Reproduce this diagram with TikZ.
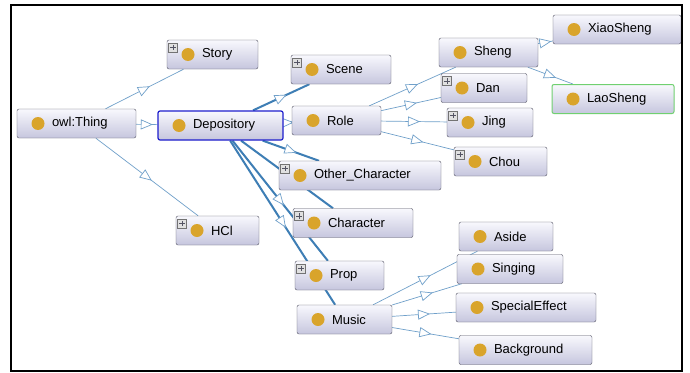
\documentclass[tikz,border=0pt]{standalone}
\usepackage{fontspec}
\setmainfont{Liberation Sans}
\usetikzlibrary{arrows.meta,decorations.markings,backgrounds}

\definecolor{dotgold}{RGB}{217,164,43}
\definecolor{boxtop}{RGB}{248,248,253}
\definecolor{boxbot}{RGB}{198,198,222}
\definecolor{boxline}{RGB}{84,84,100}
\definecolor{isacol}{RGB}{112,160,202}
\definecolor{isadark}{RGB}{62,126,181}
\definecolor{selblue}{RGB}{30,30,205}
\definecolor{selgreen}{RGB}{112,208,112}

\tikzset{
  tri/.tip={Triangle[open, color=isacol, fill=white, line width=.7pt, length=12pt, width=10pt]},
  cls/.style={draw=boxline, rounded corners=2pt, top color=boxtop, bottom color=boxbot,
    minimum height=29pt, inner xsep=0pt, inner ysep=0pt, text width=#1, align=flush left,
    font=\fontsize{13}{15}\selectfont, execute at begin node=\hspace*{35pt},
    path picture={\fill[dotgold] ([xshift=21pt]path picture bounding box.west) circle (6.5pt);}},
  plus/.style={path picture={
      \fill[dotgold] ([xshift=21pt]path picture bounding box.west) circle (6.5pt);
      \draw[sharp corners, draw=black!55, fill=black!12, line width=.6pt]
        ([shift={(1.5pt,-3pt)}]path picture bounding box.north west) rectangle ++(9pt,-9pt);
      \draw[sharp corners, line width=.8pt]
        ([shift={(3.3pt,-7.5pt)}]path picture bounding box.north west) -- ++(5.4pt,0pt)
        ([shift={(6pt,-4.8pt)}]path picture bounding box.north west) -- ++(0pt,-5.4pt);}},
  isa/.style={every edge/.style={draw=isacol, line width=.7pt, postaction=decorate,
      decoration={markings, mark=at position .5 with {\arrow[xshift=6pt]{tri}}}}},
  isab/.style={every edge/.style={draw=isadark, line width=2pt, postaction=decorate,
      decoration={markings, mark=at position .5 with {\arrow[xshift=6pt]{tri}}}}},
}

\begin{document}
\begin{tikzpicture}[x=1pt, y=-1pt]
  \useasboundingbox (0,0) rectangle (690,372);

  % classes
  \node[cls=119pt] (thing) at (76.5,123.5) {owl:Thing};
  \node[cls=91pt, plus] (story) at (212.5,54.5) {Story};
  \node[cls=125pt, draw=selblue, line width=1.2pt] (dep) at (220.5,125.5) {Depository};
  \node[cls=83pt, plus] (hcl) at (217.5,230.5) {HCl};

  \node[cls=100pt, plus] (scene) at (341,69.5) {Scene};
  \node[cls=89pt] (role) at (336.5,120.5) {Role};
  \node[cls=162pt, plus] (other) at (360,175.5) {Other\_Character};
  \node[cls=120pt, plus] (charac) at (353,223) {Character};
  \node[cls=89pt, plus] (prop) at (339.5,275.5) {Prop};
  \node[cls=95pt] (music) at (344.5,319.5) {Music};

  \node[cls=99pt] (sheng) at (488.5,52.5) {Sheng};
  \node[cls=86pt, plus] (dan) at (484,88) {Dan};
  \node[cls=86pt, plus] (jing) at (490,122.5) {Jing};
  \node[cls=93pt, plus] (chou) at (500.5,161.5) {Chou};
  \node[cls=128pt] (xiao) at (617,29.5) {XiaoSheng};
  \node[cls=122pt, draw=selgreen, line width=1pt] (lao) at (613,99) {LaoSheng};

  \node[cls=94pt] (aside) at (506,236.5) {Aside};
  \node[cls=106pt] (sing) at (510,269) {Singing};
  \node[cls=140pt] (effect) at (526,307.5) {SpecialEffect};
  \node[cls=133pt] (backg) at (525.5,350) {Background};

  \begin{pgfonlayer}{background}
    \fill[white] (0,0) rectangle (690,372);

    \path[isa]
    (thing) edge (story)
    (thing) edge (dep)
    (thing) edge (hcl)

    (role) edge (sheng)
    (role) edge (dan)
    (role) edge (jing)
    (role) edge (chou)
    (sheng) edge (xiao)
    (sheng) edge (lao)

    (music) edge (aside)
    (music) edge (sing)
    (music) edge (effect)
    (music) edge (backg);

    \path[isab]
    (dep) edge (scene)
    (dep) edge (role)
    (dep) edge (other)
    (dep) edge (charac)
    (dep) edge (prop)
    (dep) edge (music);
  \end{pgfonlayer}

  \draw[line width=1.5pt] (11,5) rectangle (682,371);
\end{tikzpicture}
\end{document}
